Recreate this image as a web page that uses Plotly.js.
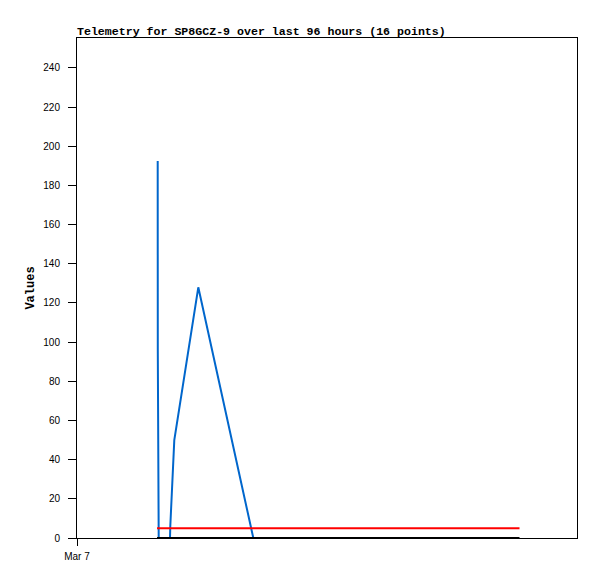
<!DOCTYPE html>
<html>
<head>
<meta charset="utf-8">
<script src="https://cdn.plot.ly/plotly-3.0.1.min.js"></script>
<style>html,body{margin:0;padding:0;background:#fff;}#chart{width:597px;height:579px;}</style>
</head>
<body>
<div id="chart"></div>
<script>
// Blue series
var blueTimes = ["2024-03-07 03:52:25", "2024-03-07 03:52:40", "2024-03-07 03:55:18", "2024-03-07 04:27:50", "2024-03-07 04:28:41", "2024-03-07 04:40:12", "2024-03-07 05:49:20", "2024-03-07 08:27:46"];
var blueValues = [192.5, 96.5, 0, 0, 6, 50, 128, 0];
// Red series
var redTimes = ["2024-03-07 03:50:30", "2024-03-07 21:14:24"];
var redValues = [5, 5];
// Black series
var blackTimes = ["2024-03-07 03:50:30", "2024-03-07 21:14:24"];
var blackValues = [0, 0];
// Axis labels
var xTickVals = ["2024-03-07 00:00"];
var xTickText = ["Mar 7"];
var xRange = ["2024-03-07 00:00", "2024-03-08 00:00"];
var yRange = [0, 255.3];
var titleText = "Telemetry for SP8GCZ-9 over last 96 hours (16 points)";
var yTitle = "Values";

var traces = [
  {x: blueTimes, y: blueValues, type: "scatter", mode: "lines", line: {color: "#0066cc", width: 2}, hoverinfo: "skip"},
  {x: redTimes, y: redValues, type: "scatter", mode: "lines", line: {color: "#ff0000", width: 2}, hoverinfo: "skip"},
  {x: blackTimes, y: blackValues, type: "scatter", mode: "lines", line: {color: "#000000", width: 2}, hoverinfo: "skip"}
];

var layout = {
  width: 597, height: 579,
  margin: {l: 77, r: 20, t: 38, b: 41, pad: 0},
  paper_bgcolor: "#ffffff", plot_bgcolor: "#ffffff",
  showlegend: false,
  font: {family: "Liberation Sans, Arial, sans-serif", size: 10, color: "#000"},
  title: {
    text: titleText,
    font: {family: "Liberation Mono, Courier New, monospace", size: 11.6, color: "#000", weight: "bold"},
    x: 77/597, xref: "container", xanchor: "left",
    y: 1 - 31/579, yref: "container", yanchor: "middle"
  },
  xaxis: {
    type: "date", range: xRange,
    tickmode: "array", tickvals: xTickVals, ticktext: xTickText,
    ticks: "outside", ticklen: 7, tickcolor: "#000", tickwidth: 1,
    ticklabelstandoff: 2,
    showline: true, linecolor: "#000", linewidth: 1, mirror: true,
    showgrid: false, zeroline: false,
    tickfont: {family: "Liberation Sans, Arial, sans-serif", size: 10, color: "#000"}
  },
  yaxis: {
    range: yRange, tickmode: "linear", tick0: 0, dtick: 20,
    ticks: "outside", ticklen: 8, tickcolor: "#000", tickwidth: 1,
    ticklabelstandoff: 6,
    showline: true, linecolor: "#000", linewidth: 1, mirror: true,
    showgrid: false, zeroline: false,
    tickfont: {family: "Liberation Sans, Arial, sans-serif", size: 10, color: "#000"},
    title: {text: yTitle, font: {family: "Liberation Mono, Courier New, monospace", size: 12, color: "#000", weight: "bold"}, standoff: 6}
  }
};

Plotly.newPlot("chart", traces, layout, {staticPlot: true, displayModeBar: false});
</script>
</body>
</html>
